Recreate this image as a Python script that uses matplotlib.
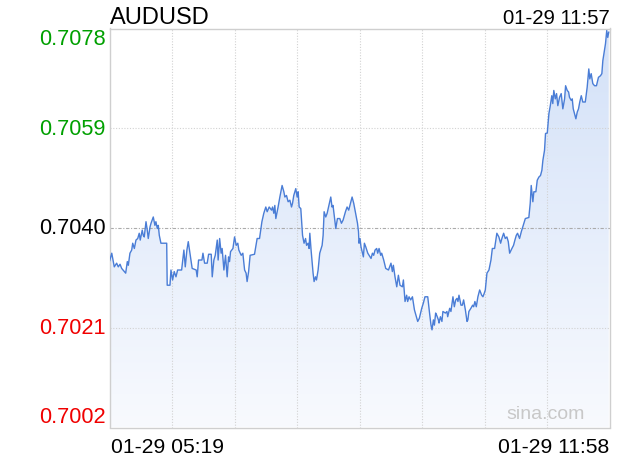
import numpy as np
import matplotlib
matplotlib.use("Agg")
import matplotlib.pyplot as plt
from matplotlib.colors import LinearSegmentedColormap
from matplotlib.transforms import blended_transform_factory

# ─────────────────────────────────────────────
# Data: AUDUSD intraday, 01-29 (minutes after 05:19)
# ─────────────────────────────────────────────
t_min = [
    0.2, 1.8, 3.8, 5.7, 7.0, 8.4, 9.7, 11.8, 12.9, 14.2,
    15.0, 16.3, 17.7, 18.5, 19.8, 21.1, 22.5, 23.7, 24.5, 26.1,
    26.9, 27.7, 29.1, 30.1, 30.9, 32.3, 33.1, 34.9, 36.2, 37.0,
    38.1, 38.9, 39.7, 41.0, 45.6, 46.0, 48.2, 49.0, 50.3, 51.6,
    53.0, 54.3, 57.5, 59.3, 60.4, 61.7, 62.8,
    65.9, 69.1, 69.9, 71.0, 73.7, 74.5, 75.8, 77.9, 79.0, 81.1,
    81.9, 83.2, 84.3, 85.9, 86.6, 87.8, 89.0, 89.8, 91.2, 92.5,
    93.8, 94.9, 95.7, 96.5, 98.4, 99.7, 101.0, 102.3, 103.1, 105.0,
    106.3, 107.7, 108.9, 109.7, 110.9, 112.1, 115.6, 117.7, 119.6, 121.5,
    123.0, 124.6, 125.7, 127.3,
    129.2, 130.0, 131.0, 131.8, 132.6, 134.4, 135.8, 137.6, 139.0, 139.8,
    141.1, 142.4, 143.8, 145.1, 145.9, 146.9, 148.5, 149.6, 150.4, 151.2,
    152.5, 153.9, 155.1, 156.3, 157.1, 158.3, 159.1, 159.7, 160.7, 162.3,
    163.1, 164.2, 165.0, 166.3, 167.6, 169.5, 170.3, 171.1, 172.4, 173.5,
    176.4, 177.4, 178.2, 180.4, 181.7, 183.6, 184.9, 186.2, 188.1, 189.4,
    190.7, 193.4, 194.7, 195.5, 197.7,
    198.5, 198.9, 199.7, 200.5, 202.4, 203.2, 204.3, 205.9, 207.7, 208.5,
    209.6, 210.6, 211.7, 213.0, 213.8, 214.9, 216.2, 217.0, 218.6, 220.2,
    222.4, 224.4, 225.5, 226.3, 227.6, 229.0, 230.3, 231.6, 233.5, 234.3,
    235.6, 236.9, 237.7, 238.8, 240.1, 241.5, 243.1, 244.3, 245.7, 247.0,
    248.9, 250.2, 251.5, 253.7, 255.0, 256.3, 257.1, 258.2, 259.0, 260.0,
    260.8, 262.2,
    262.7, 263.8, 265.0, 265.8, 267.8, 269.0, 269.6, 271.2, 272.2, 273.8,
    274.9, 276.0, 277.0, 277.8, 278.6, 280.2, 281.3, 282.3, 283.7, 285.0,
    285.7, 286.5, 288.1, 289.5, 290.3, 291.3, 292.4, 293.7, 295.1, 296.7,
    297.7, 298.8, 299.6, 300.9, 302.5, 304.1, 305.2, 307.0, 307.8, 308.8,
    310.4, 311.8, 312.8, 314.2, 315.5, 316.8, 317.9, 319.0, 320.8, 322.1,
    323.2, 324.3, 325.3,
    326.9, 328.3, 330.3, 331.5, 334.3, 335.4, 336.2, 337.5, 338.3, 339.9,
    341.0, 342.3, 343.6, 344.7, 345.5, 346.8, 347.6, 349.0, 350.3, 351.4,
    352.6, 353.4, 354.2, 355.4, 356.4, 357.4, 358.8, 360.1, 361.4, 362.8,
    363.6, 364.9, 366.0, 366.7, 368.1, 368.9, 369.7, 370.7, 371.8, 372.9,
    373.9, 374.9, 376.1, 377.3, 379.3, 380.8, 382.1, 382.9, 384.0, 385.3,
    386.7, 388.2, 389.8, 391.4, 392.5, 393.3, 394.6, 395.4, 396.4, 397.2,
    398.0,
]

price = [
    0.70338, 0.70352, 0.70326, 0.70333, 0.70326, 0.70331, 0.70323, 0.70317, 0.70314, 0.70336,
    0.70329, 0.70352, 0.70358, 0.70371, 0.70361, 0.70377, 0.70380, 0.70390, 0.70377, 0.70396,
    0.70386, 0.70383, 0.70412, 0.70396, 0.70380, 0.70402, 0.70409, 0.70421, 0.70405, 0.70412,
    0.70399, 0.70405, 0.70386, 0.70371, 0.70371, 0.70291, 0.70291, 0.70320, 0.70301, 0.70317,
    0.70307, 0.70320, 0.70320, 0.70358, 0.70326, 0.70358, 0.70374,
    0.70323, 0.70320, 0.70307, 0.70339, 0.70339, 0.70352, 0.70333, 0.70333, 0.70350, 0.70350,
    0.70307, 0.70339, 0.70348, 0.70377, 0.70339, 0.70380, 0.70352, 0.70361, 0.70320, 0.70348,
    0.70307, 0.70345, 0.70336, 0.70355, 0.70361, 0.70383, 0.70367, 0.70371, 0.70358, 0.70348,
    0.70352, 0.70320, 0.70314, 0.70298, 0.70317, 0.70348, 0.70350, 0.70380, 0.70380, 0.70412,
    0.70428, 0.70440, 0.70431, 0.70440,
    0.70434, 0.70440, 0.70428, 0.70443, 0.70418, 0.70440, 0.70459, 0.70481, 0.70469, 0.70459,
    0.70462, 0.70450, 0.70453, 0.70440, 0.70447, 0.70462, 0.70475, 0.70459, 0.70469, 0.70440,
    0.70437, 0.70386, 0.70371, 0.70380, 0.70367, 0.70371, 0.70361, 0.70390, 0.70358, 0.70314,
    0.70298, 0.70307, 0.70301, 0.70320, 0.70352, 0.70367, 0.70386, 0.70431, 0.70421, 0.70428,
    0.70459, 0.70440, 0.70443, 0.70399, 0.70418, 0.70418, 0.70409, 0.70415, 0.70431, 0.70440,
    0.70434, 0.70459, 0.70447, 0.70437, 0.70409,
    0.70393, 0.70371, 0.70380, 0.70364, 0.70345, 0.70371, 0.70364, 0.70352, 0.70345, 0.70342,
    0.70352, 0.70348, 0.70358, 0.70361, 0.70352, 0.70361, 0.70348, 0.70352, 0.70339, 0.70323,
    0.70320, 0.70333, 0.70317, 0.70329, 0.70307, 0.70288, 0.70310, 0.70291, 0.70288, 0.70301,
    0.70260, 0.70272, 0.70260, 0.70269, 0.70263, 0.70269, 0.70244, 0.70234, 0.70222, 0.70228,
    0.70247, 0.70257, 0.70269, 0.70269, 0.70241, 0.70215, 0.70206, 0.70225, 0.70215, 0.70238,
    0.70234, 0.70225,
    0.70219, 0.70231, 0.70222, 0.70241, 0.70238, 0.70241, 0.70231, 0.70247, 0.70241, 0.70269,
    0.70250, 0.70263, 0.70266, 0.70260, 0.70272, 0.70253, 0.70253, 0.70263, 0.70244, 0.70222,
    0.70225, 0.70241, 0.70247, 0.70253, 0.70250, 0.70260, 0.70250, 0.70269, 0.70282, 0.70272,
    0.70269, 0.70276, 0.70282, 0.70314, 0.70320, 0.70339, 0.70361, 0.70361, 0.70374, 0.70390,
    0.70383, 0.70371, 0.70380, 0.70390, 0.70380, 0.70383, 0.70374, 0.70352, 0.70361, 0.70367,
    0.70377, 0.70386, 0.70390,
    0.70380, 0.70393, 0.70409, 0.70418, 0.70420, 0.70447, 0.70481, 0.70450, 0.70469, 0.70469,
    0.70491, 0.70497, 0.70500, 0.70510, 0.70529, 0.70548, 0.70580, 0.70581, 0.70618, 0.70633,
    0.70652, 0.70637, 0.70662, 0.70646, 0.70656, 0.70633, 0.70649, 0.70656, 0.70627, 0.70646,
    0.70671, 0.70662, 0.70659, 0.70649, 0.70643, 0.70646, 0.70627, 0.70618, 0.70608, 0.70621,
    0.70627, 0.70640, 0.70652, 0.70640, 0.70640, 0.70668, 0.70703, 0.70684, 0.70694, 0.70675,
    0.70671, 0.70671, 0.70687, 0.70690, 0.70694, 0.70719, 0.70738, 0.70751, 0.70776, 0.70763,
    0.70773,
]

symbol = "AUDUSD"
last_update = "01-29 11:57"
start_label = "01-29 05:19"
end_label = "01-29 11:58"
watermark = "sina.com"
prev_close = 0.7040
y_ticks = [0.7002, 0.7021, 0.7040, 0.7059, 0.7078]
y_tick_labels = ["0.7002", "0.7021", "0.7040", "0.7059", "0.7078"]
span_min = 399          # 05:19 -> 11:58
n_vgrid = 8

assert len(t_min) == len(price)

plt.rcParams["font.family"] = ["Liberation Sans", "DejaVu Sans"]

W, H = 620, 460
fig = plt.figure(figsize=(W / 100, H / 100), dpi=100)
fig.patch.set_facecolor("white")
ax = fig.add_axes([109.5 / W, 31.5 / H, 500.5 / W, 399 / H])
ax.set_xlim(0, span_min)
ax.set_ylim(y_ticks[0], y_ticks[-1])

# gradient area under the line
cmap = LinearSegmentedColormap.from_list("area", ["#f8fafe", "#d3e1f8"])
grad = np.linspace(0, 1, 256).reshape(-1, 1)
im = ax.imshow(grad, cmap=cmap, aspect="auto", origin="lower",
               extent=[0, span_min, y_ticks[0], y_ticks[-1]], zorder=1)
area = ax.fill_between(t_min, price, y_ticks[0], facecolor="none", edgecolor="none")
im.set_clip_path(area.get_paths()[0], transform=ax.transData)

# grid
for k in range(1, n_vgrid):
    ax.axvline(span_min * k / n_vgrid, color="#d2d2d2", lw=0.8,
               ls=(0, (1, 1.5)), zorder=2)
for v in y_ticks[1:-1]:
    if v == prev_close:
        ax.axhline(v, color="#ababab", lw=0.8, ls=(0, (3, 1.5, 1, 1.5)), zorder=2)
    else:
        ax.axhline(v, color="#d2d2d2", lw=0.8, ls=(0, (1, 1.5)), zorder=2)

ax.plot(t_min, price, color="#4a7dd6", lw=1.0, zorder=3)

ax.set_xticks([]); ax.set_yticks([])
for sp in ax.spines.values():
    sp.set_color("#cfcfcf")
    sp.set_linewidth(1.0)

# price labels, coloured against previous close
trans = blended_transform_factory(ax.transAxes, ax.transData)
for v, lab in zip(y_ticks, y_tick_labels):
    if v > prev_close:
        c = "#00a000"
    elif v < prev_close:
        c = "#f00000"
    else:
        c = "black"
    va = "center"
    if v == y_ticks[-1]:
        va = "top"
    elif v == y_ticks[0]:
        va = "bottom"
    ax.text(-0.007, v, lab, transform=trans, ha="right", va=va,
            fontsize=15.7, color=c)

fig.text(110 / W, 1 - 24 / H, symbol, ha="left", va="baseline", fontsize=17)
fig.text(609.5 / W, 1 - 23.5 / H, last_update, ha="right", va="baseline", fontsize=14.7)
fig.text(111 / W, 1 - 453 / H, start_label, ha="left", va="baseline", fontsize=15.2)
fig.text(609.5 / W, 1 - 453 / H, end_label, ha="right", va="baseline", fontsize=15.2)
fig.text(585 / W, 1 - 419 / H, watermark, ha="right", va="baseline",
         fontsize=14, color="#c8c8c8")

fig.savefig("out.png", dpi=100, facecolor=fig.get_facecolor())
plt.close(fig)
